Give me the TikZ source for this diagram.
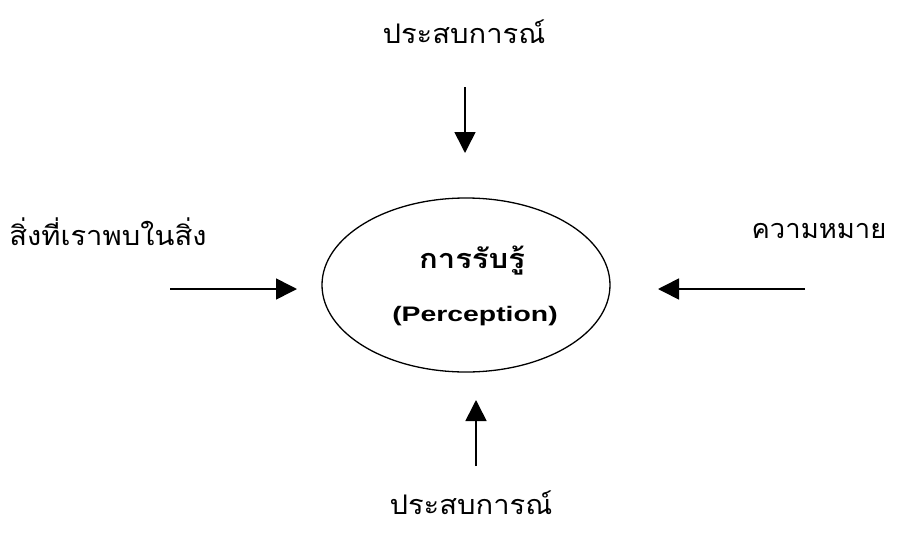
\documentclass[tikz,border=0pt]{standalone}
\usepackage{fontspec}
\newfontfamily\thaifont[Script=Thai]{Loma}
\setmainfont{Liberation Sans}
\usetikzlibrary{arrows.meta,shapes.geometric}
\begin{document}
\begin{tikzpicture}[x=1pt,y=-1pt,
  lbl/.style={font=\thaifont\fontsize{27}{32}\selectfont, inner sep=0pt, xscale=1.08},
  arr/.style={line width=1.6pt, -{Triangle[length=21pt,width=21pt]}}]
\useasboundingbox (0,0) rectangle (898,536);
\node[draw, line width=1.3pt, ellipse, minimum width=288pt, minimum height=174pt, inner sep=0pt] (c) at (466,285) {};
\node[font=\thaifont\bfseries\fontsize{27}{32}\selectfont, inner sep=0pt, xscale=1.15] (t1) at (472,261) {การรับรู้};
\node[font=\bfseries\fontsize{21}{25}\selectfont, inner sep=0pt, xscale=1.35] (t2) at (475,316) {(Perception)};
\node[lbl] (top) at (464,32) {ประสบการณ์};
\node[lbl] (bot) at (471,503) {ประสบการณ์};
\node[lbl] (left) at (108,232) {สิ่งที่เราพบในสิ่ง};
\node[lbl, xscale=0.94] (right) at (819,231) {ความหมาย};
\coordinate (a1) at (465,87);
\coordinate (a1e) at (465,153);
\coordinate (a2) at (476,466);
\coordinate (a2e) at (476,400);
\coordinate (a3) at (170,289);
\coordinate (a3e) at (297,289);
\coordinate (a4) at (805,289);
\coordinate (a4e) at (658,289);
\draw[arr] (a1) -- (a1e);
\draw[arr] (a2) -- (a2e);
\draw[arr] (a3) -- (a3e);
\draw[arr] (a4) -- (a4e);
\end{tikzpicture}
\end{document}
